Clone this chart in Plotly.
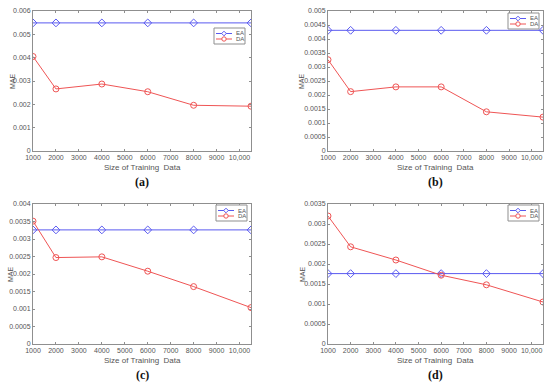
import plotly.graph_objects as go

sizes = [1000, 2000, 4000, 6000, 8000, 10500]
x_ticks = [1000, 2000, 3000, 4000, 5000, 6000, 7000, 8000, 9000, 10000]
x_ticktext = ["1000", "2000", "3000", "4000", "5000", "6000", "7000", "8000", "9000", "10,000"]

ea_a = [0.00549] * 6
da_a = [0.00405, 0.00266, 0.00287, 0.00254, 0.00196, 0.00192]
ea_b = [0.00431] * 6
da_b = [0.00326, 0.00212, 0.00229, 0.00229, 0.00140, 0.00121]
ea_c = [0.00326] * 6
da_c = [0.00351, 0.00247, 0.00249, 0.00208, 0.00164, 0.00104]
ea_d = [0.00176] * 6
da_d = [0.00320, 0.00243, 0.00210, 0.00172, 0.00148, 0.00105]

y_ticks_a = [0, 0.001, 0.002, 0.003, 0.004, 0.005, 0.006]
y_text_a = ["0", "0.001", "0.002", "0.003", "0.004", "0.005", "0.006"]
y_ticks_b = [0, 0.0005, 0.001, 0.0015, 0.002, 0.0025, 0.003, 0.0035, 0.004, 0.0045, 0.005]
y_text_b = ["0", "0.0005", "0.001", "0.0015", "0.002", "0.0025", "0.003", "0.0035", "0.004", "0.0045", "0.005"]
y_ticks_c = [0, 0.0005, 0.001, 0.0015, 0.002, 0.0025, 0.003, 0.0035, 0.004]
y_text_c = ["0", "0.0005", "0.001", "0.0015", "0.002", "0.0025", "0.003", "0.0035", "0.004"]
y_ticks_d = [0, 0.0005, 0.001, 0.0015, 0.002, 0.0025, 0.003, 0.0035]
y_text_d = ["0", "0.0005", "0.001", "0.0015", "0.002", "0.0025", "0.003", "0.0035"]

series_names = ["EA", "DA"]
panel_labels = ["(a)", "(b)", "(c)", "(d)"]

panels = [
    (ea_a, da_a, y_ticks_a, y_text_a, 0.006),
    (ea_b, da_b, y_ticks_b, y_text_b, 0.005),
    (ea_c, da_c, y_ticks_c, y_text_c, 0.004),
    (ea_d, da_d, y_ticks_d, y_text_d, 0.0035),
]

W, H = 550, 386
px = lambda v: v / W
py = lambda v: 1 - v / H

xdoms = [(33, 251), (328, 543)]
ydoms = [(11, 151), (204, 344)]
mae_offset = [20, 26, 23, 26]
# legend box (left, top) in pixels
legend_box = [(214, 28), (508, 13), (216, 205), (508, 205)]

BLUE = "#5a5af0"
RED = "#ef5555"
AX = "#8f8f8f"
TXT = "#555555"
FONT = "Liberation Sans, Arial, sans-serif"

fig = go.Figure()
layout = dict(width=W, height=H, margin=dict(l=0, r=0, t=0, b=0, autoexpand=False),
              paper_bgcolor="white", plot_bgcolor="white", showlegend=False,
              font=dict(family=FONT, size=7, color=TXT))
annotations = []
shapes = []

for i, (ea, da, yt, ytt, ymax) in enumerate(panels):
    col, row = i % 2, i // 2
    sfx = "" if i == 0 else str(i + 1)
    xa, ya = "x" + sfx, "y" + sfx
    fig.add_trace(go.Scatter(x=sizes, y=ea, name=series_names[0], mode="lines+markers", xaxis=xa, yaxis=ya,
                             line=dict(color=BLUE, width=1),
                             marker=dict(symbol="diamond-open", size=6, color=BLUE, line=dict(width=1))))
    fig.add_trace(go.Scatter(x=sizes, y=da, name=series_names[1], mode="lines+markers", xaxis=xa, yaxis=ya,
                             line=dict(color=RED, width=1),
                             marker=dict(symbol="circle-open", size=6, color=RED, line=dict(width=1))))
    l, r = xdoms[col]
    t, b = ydoms[row]
    layout["xaxis" + sfx] = dict(domain=[px(l), px(r)], anchor=ya, range=[1000, 10500], automargin=False,
                                 tickvals=x_ticks, ticktext=x_ticktext, ticks="inside", ticklen=2,
                                 tickcolor=AX, showline=True, linecolor=AX, linewidth=1, mirror="ticks",
                                 showgrid=False, zeroline=False, tickfont=dict(size=7, color=TXT))
    layout["yaxis" + sfx] = dict(domain=[py(b), py(t)], anchor=xa, range=[0, ymax], automargin=False,
                                 tickvals=yt, ticktext=ytt, ticks="inside", ticklen=2,
                                 tickcolor=AX, showline=True, linecolor=AX, linewidth=1, mirror="ticks",
                                 showgrid=False, zeroline=False, tickfont=dict(size=7, color=TXT))
    xc = (l + r) / 2
    annotations.append(dict(text="Size of Training  Data", x=px(xc), y=py(b + 16), xref="paper", yref="paper",
                            xanchor="center", yanchor="middle", showarrow=False, font=dict(size=8, color=TXT)))
    annotations.append(dict(text="MAE", x=px(l - mae_offset[i]), y=py((t + b) / 2),
                            xref="paper", yref="paper", xanchor="center", yanchor="middle",
                            showarrow=False, textangle=-90, font=dict(size=7, color=TXT)))
    annotations.append(dict(text="<b>" + panel_labels[i] + "</b>", x=px(xc), y=py(b + 31), xref="paper",
                            yref="paper", xanchor="center", yanchor="middle", showarrow=False,
                            font=dict(size=12, color="#111111", family="Liberation Serif, serif")))
    # legend box
    bx, by = legend_box[i]
    bw, bh = 31, 16
    shapes.append(dict(type="rect", xref="paper", yref="paper", x0=px(bx), x1=px(bx + bw),
                       y0=py(by + bh), y1=py(by), line=dict(color=AX, width=1), fillcolor="white", layer="above"))
    for k, (nm, clr) in enumerate(zip(series_names, [BLUE, RED])):
        ry = by + 5.5 + k * 5.5
        shapes.append(dict(type="line", xref="paper", yref="paper", x0=px(bx + 2), x1=px(bx + 18),
                           y0=py(ry), y1=py(ry), line=dict(color=clr, width=1), layer="above"))
        mx = bx + 10
        if k == 0:
            path = "M {:.5f},{:.5f} L {:.5f},{:.5f} L {:.5f},{:.5f} L {:.5f},{:.5f} Z".format(
                px(mx), py(ry - 2.3), px(mx + 2.3), py(ry), px(mx), py(ry + 2.3), px(mx - 2.3), py(ry))
            shapes.append(dict(type="path", xref="paper", yref="paper", path=path,
                               line=dict(color=clr, width=1), fillcolor="white", layer="above"))
        else:
            shapes.append(dict(type="circle", xref="paper", yref="paper", x0=px(mx - 2.2), x1=px(mx + 2.2),
                               y0=py(ry + 2.2), y1=py(ry - 2.2), line=dict(color=clr, width=1),
                               fillcolor="white", layer="above"))
        annotations.append(dict(text=nm, x=px(bx + 20), y=py(ry), xref="paper", yref="paper",
                                xanchor="left", yanchor="middle", showarrow=False,
                                font=dict(size=6, color=TXT)))

layout["annotations"] = annotations
layout["shapes"] = shapes
fig.update_layout(**layout)
fig.write_html("out.html", config={"displayModeBar": False},
               post_script="document.body.style.margin='0';document.body.style.overflow='hidden';")
